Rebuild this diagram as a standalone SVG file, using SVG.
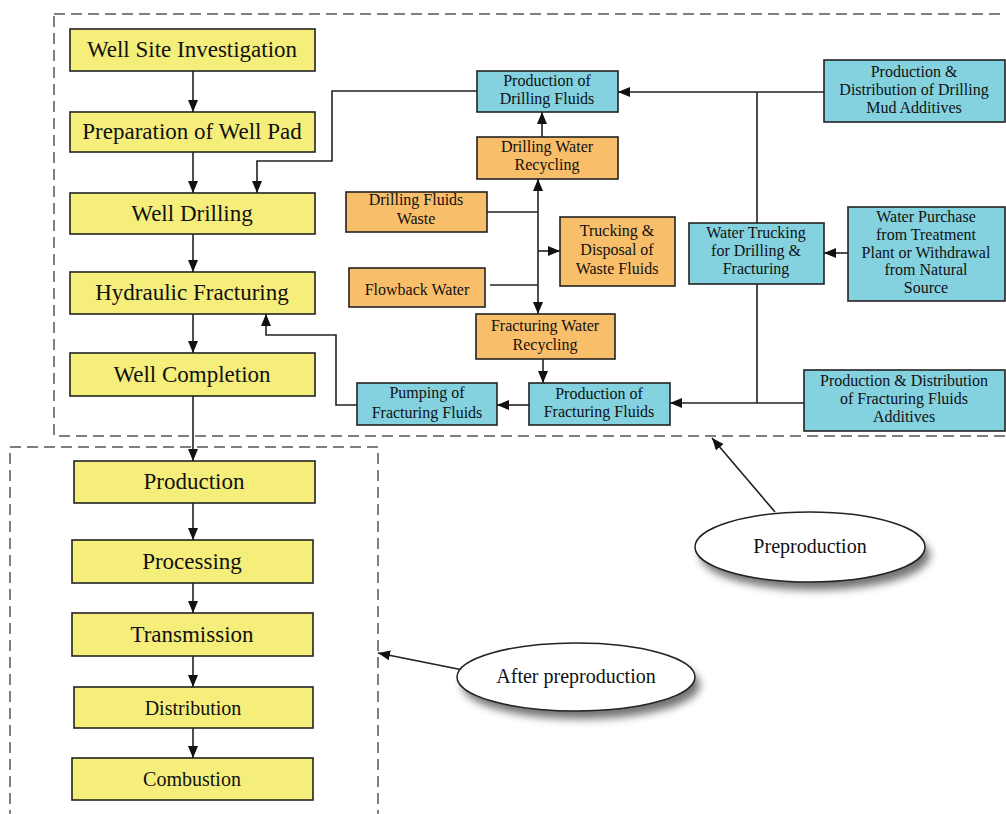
<svg xmlns="http://www.w3.org/2000/svg" width="1006" height="814" viewBox="0 0 1006 814">
<style>
.y{fill:#f6ee7a;stroke:#222;stroke-width:1.6}
.o{fill:#f9be69;stroke:#222;stroke-width:1.6}
.b{fill:#84d2e0;stroke:#222;stroke-width:1.6}
.ty{font-family:"Liberation Serif","Times New Roman",serif;font-size:23px;fill:#111;text-anchor:middle}
.ts{font-family:"Liberation Serif","Times New Roman",serif;font-size:16px;fill:#111;text-anchor:middle}
.te{font-family:"Liberation Serif","Times New Roman",serif;font-size:20px;fill:#111;text-anchor:middle}
.dash{fill:none;stroke:#555;stroke-width:1.5;stroke-dasharray:11 6}
.c{fill:none;stroke:#222;stroke-width:1.6}
.ca{fill:none;stroke:#222;stroke-width:1.6;marker-end:url(#ah)}
.el{fill:#fff;stroke:#222;stroke-width:1.5}
</style>
<defs>
<marker id="ah" markerUnits="userSpaceOnUse" markerWidth="13" markerHeight="11" refX="12" refY="5" orient="auto">
<path d="M0,0 L12,5 L0,10 z" fill="#111"/>
</marker>
<filter id="sh" x="-20%" y="-30%" width="150%" height="180%">
<feGaussianBlur stdDeviation="4"/>
</filter>
</defs>
<rect width="1006" height="814" fill="#fff"/>

<g id="preproduction-area"><rect class="dash" x="54" y="14" width="970" height="422"/></g>
<g id="after-preproduction-area"><rect class="dash" x="10" y="447" width="368" height="380"/></g>

<g id="connectors">
<path class="ca" d="M193,71 V112"/>
<path class="ca" d="M193,152 V193"/>
<path class="ca" d="M193,234 V272"/>
<path class="ca" d="M193,314 V353"/>
<path class="ca" d="M193,396 V461"/>
<path class="ca" d="M193,503 V540"/>
<path class="ca" d="M193,583 V613"/>
<path class="ca" d="M193,656 V687"/>
<path class="ca" d="M193,728 V758"/>
<path class="ca" d="M477,91 H332 V161 H257 V193"/>
<path class="c" d="M487,212 H538"/>
<path class="c" d="M490,285 H538"/>
<path class="ca" d="M538,250 V179"/>
<path class="ca" d="M538,250 V314"/>
<path class="ca" d="M538,251 H560"/>
<path class="ca" d="M542,137 V112"/>
<path class="ca" d="M543,359 V383"/>
<path class="ca" d="M529,405 H497"/>
<path class="ca" d="M357,405 H336 V335 H266 V314"/>
<path class="ca" d="M824,92 H618"/>
<path class="c" d="M757,92 V223"/>
<path class="c" d="M757,284 V403"/>
<path class="ca" d="M804,403 H670"/>
<path class="ca" d="M848,253 H824"/>
<path class="ca" d="M775,512 L712,438"/>
<path class="ca" d="M463,670 L378,653"/>
</g>

<g id="well-site-investigation"><rect class="y" x="70" y="29" width="245" height="42"/><text class="ty" x="192" y="57">Well Site Investigation</text></g>
<g id="preparation-of-well-pad"><rect class="y" x="70" y="112" width="245" height="40"/><text class="ty" x="192" y="139">Preparation of Well Pad</text></g>
<g id="well-drilling"><rect class="y" x="70" y="193" width="245" height="41"/><text class="ty" x="192" y="221">Well Drilling</text></g>
<g id="hydraulic-fracturing"><rect class="y" x="70" y="272" width="245" height="42"/><text class="ty" x="192" y="300">Hydraulic Fracturing</text></g>
<g id="well-completion"><rect class="y" x="70" y="353" width="245" height="43"/><text class="ty" x="192" y="382">Well Completion</text></g>

<g id="production"><rect class="y" x="74" y="461" width="241" height="42"/><text class="ty" x="194" y="489">Production</text></g>
<g id="processing"><rect class="y" x="72" y="540" width="241" height="43"/><text class="ty" x="192" y="569">Processing</text></g>
<g id="transmission"><rect class="y" x="72" y="613" width="241" height="43"/><text class="ty" x="192" y="642">Transmission</text></g>
<g id="distribution"><rect class="y" x="74" y="687" width="239" height="41"/><text class="te" x="193" y="715">Distribution</text></g>
<g id="combustion"><rect class="y" x="72" y="758" width="241" height="42"/><text class="te" x="192" y="786">Combustion</text></g>

<g id="production-of-drilling-fluids"><rect class="b" x="477" y="71" width="141" height="41"/><text class="ts" x="547" y="86">Production of</text><text class="ts" x="547" y="104">Drilling Fluids</text></g>
<g id="drilling-water-recycling"><rect class="o" x="477" y="137" width="141" height="42"/><text class="ts" x="547" y="152">Drilling Water</text><text class="ts" x="547" y="170">Recycling</text></g>
<g id="drilling-fluids-waste"><rect class="o" x="346" y="192" width="141" height="40"/><text class="ts" x="416" y="205">Drilling Fluids</text><text class="ts" x="416" y="224">Waste</text></g>
<g id="flowback-water"><rect class="o" x="349" y="268" width="136" height="39"/><text class="ts" x="417" y="295">Flowback Water</text></g>
<g id="trucking-disposal"><rect class="o" x="560" y="217" width="115" height="69"/><text class="ts" x="617" y="236">Trucking &amp;</text><text class="ts" x="617" y="255">Disposal of</text><text class="ts" x="617" y="274">Waste Fluids</text></g>
<g id="fracturing-water-recycling"><rect class="o" x="476" y="314" width="139" height="45"/><text class="ts" x="545" y="331">Fracturing Water</text><text class="ts" x="545" y="350">Recycling</text></g>
<g id="production-of-fracturing-fluids"><rect class="b" x="529" y="383" width="141" height="42"/><text class="ts" x="599" y="399">Production of</text><text class="ts" x="599" y="417">Fracturing Fluids</text></g>
<g id="pumping-of-fracturing-fluids"><rect class="b" x="357" y="383" width="140" height="42"/><text class="ts" x="427" y="398">Pumping of</text><text class="ts" x="427" y="418">Fracturing Fluids</text></g>
<g id="drilling-mud-additives"><rect class="b" x="824" y="60" width="181" height="62"/><text class="ts" x="914" y="77">Production &amp;</text><text class="ts" x="914" y="95">Distribution of Drilling</text><text class="ts" x="914" y="113">Mud Additives</text></g>
<g id="water-trucking"><rect class="b" x="689" y="223" width="135" height="61"/><text class="ts" x="756" y="238">Water Trucking</text><text class="ts" x="756" y="256">for Drilling &amp;</text><text class="ts" x="756" y="274">Fracturing</text></g>
<g id="water-purchase"><rect class="b" x="848" y="207" width="157" height="94"/><text class="ts" x="926" y="222">Water Purchase</text><text class="ts" x="926" y="239.8">from Treatment</text><text class="ts" x="926" y="257.6">Plant or Withdrawal</text><text class="ts" x="926" y="275.4">from Natural</text><text class="ts" x="926" y="293.2">Source</text></g>
<g id="fracturing-fluids-additives"><rect class="b" x="804" y="370" width="201" height="61"/><text class="ts" x="904" y="386">Production &amp; Distribution</text><text class="ts" x="904" y="404">of Fracturing Fluids</text><text class="ts" x="904" y="422">Additives</text></g>

<g id="preproduction-label"><ellipse cx="815" cy="555" rx="115" ry="35" fill="#000" opacity="0.55" filter="url(#sh)"/><ellipse class="el" cx="810" cy="547" rx="115" ry="35"/><text class="te" x="810" y="553">Preproduction</text></g>
<g id="after-preproduction-label"><ellipse cx="581" cy="685" rx="119" ry="34" fill="#000" opacity="0.55" filter="url(#sh)"/><ellipse class="el" cx="576" cy="677" rx="119" ry="34"/><text class="te" x="576" y="683">After preproduction</text></g>
</svg>
